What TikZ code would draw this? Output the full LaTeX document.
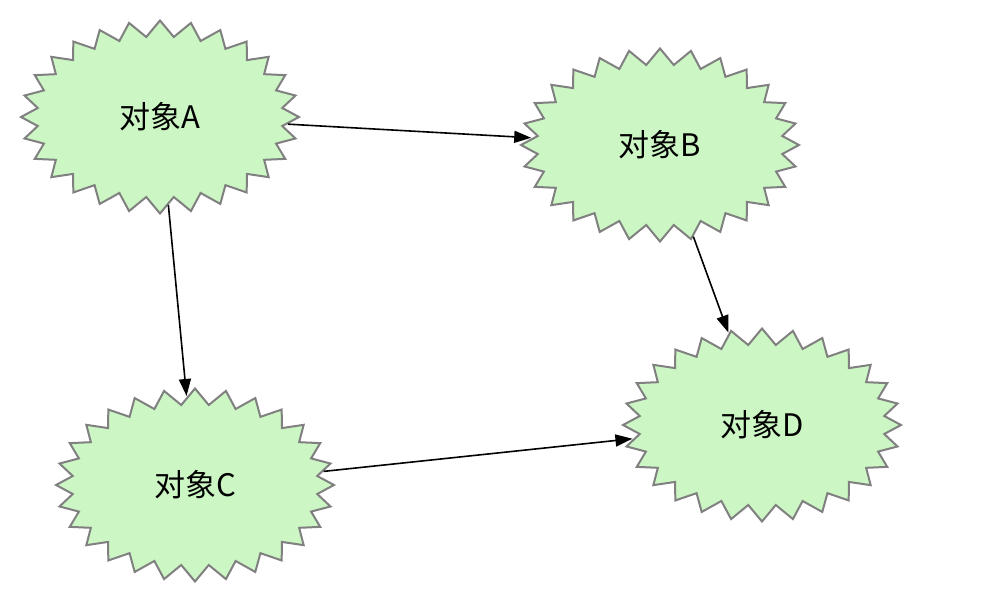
\documentclass[tikz,border=0pt]{standalone}
\usepackage{fontspec}
\setmainfont{Noto Sans CJK SC}
\usepackage{tikz}
\usetikzlibrary{shapes.symbols,arrows.meta}

\definecolor{verdino}{RGB}{204,246,196}
\definecolor{grigio}{RGB}{128,128,128}

\begin{document}
\begin{tikzpicture}[x=1pt,y=-1pt]
\tikzstyle{stella} = [starburst, starburst points=28, starburst point height=16pt, draw=grigio, fill=verdino, line width=2pt, minimum width=278pt, minimum height=193pt, inner sep=0pt, font=\fontsize{31pt}{36pt}\selectfont]
\tikzstyle{freccia} = [-{Triangle[length=17pt,width=12pt]}, line width=1.6pt, shorten >=1pt]

% Cornice
\useasboundingbox (0,0) rectangle (988,602);

% Oggetti
\node[stella, random starburst=0] (a) at (160,117) {对象A};
\node[stella, random starburst=0] (b) at (660,145) {对象B};
\node[stella, random starburst=0] (c) at (195,485) {对象C};
\node[stella, random starburst=0] (d) at (762,425) {对象D};

% Frecce
\draw[freccia] (a) -- (b);
\draw[freccia] (a) -- (c);
\draw[freccia] (b) -- (d);
\draw[freccia] (c) -- (d);

\end{tikzpicture}
\end{document}
